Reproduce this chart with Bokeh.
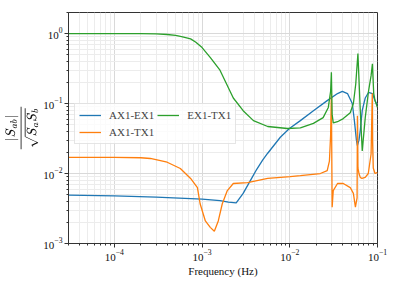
import numpy as np
from bokeh.plotting import figure
from bokeh.models import Legend, LegendItem, FixedTicker
from bokeh.embed import file_html
from bokeh.resources import INLINE

# A_X1-E_X1 (blue)
f_ae = [3e-5, 1e-4, 3e-4, 1e-3, 1.6e-3, 2.0e-3, 2.45e-3, 2.94e-3, 3.55e-3, 4.2e-3,
        4.9e-3, 5.6e-3, 7.8e-3, 9.9e-3, 0.0132, 0.0186, 0.0267, 0.035, 0.0397, 0.0455,
        0.0516, 0.0545, 0.0575, 0.059, 0.0615, 0.0636, 0.067, 0.0725, 0.079,
        0.0875, 0.0937, 0.1]
v_ae = [0.0049, 0.0048, 0.0046, 0.0043, 0.0041, 0.0039, 0.0038, 0.0052, 0.0079, 0.0115,
        0.0155, 0.0195, 0.033, 0.044, 0.057, 0.079, 0.11, 0.139, 0.149, 0.139,
        0.10, 0.057, 0.030, 0.025, 0.030, 0.041, 0.080, 0.12, 0.144,
        0.139, 0.11, 0.094]

# A_X1-T_X1 (orange)
f_at = [3e-5, 1e-4, 2e-4, 2.57e-4, 4e-4, 5.65e-4, 7.4e-4, 8.85e-4, 9.5e-4, 1.09e-3,
        1.24e-3, 1.38e-3, 1.53e-3, 1.7e-3, 1.94e-3, 2.27e-3, 3.3e-3, 5.6e-3, 0.0101,
        0.0132, 0.0223, 0.0267, 0.0283, 0.0292, 0.0298, 0.0304, 0.0313, 0.035, 0.0407,
        0.0489, 0.0531, 0.056, 0.0585, 0.059, 0.0598, 0.0615, 0.0636, 0.0665, 0.0725,
        0.0785, 0.0845, 0.0872, 0.0878, 0.0895, 0.0937, 0.1]
v_at = [0.017, 0.017, 0.0168, 0.0164, 0.0145, 0.0118, 0.0085, 0.0063, 0.0037, 0.0021,
        0.0017, 0.0015, 0.0021, 0.0037, 0.0057, 0.0072, 0.0074, 0.0085, 0.009,
        0.0093, 0.010, 0.011, 0.015, 0.035, 0.14, 0.0033, 0.0057, 0.0072, 0.0072,
        0.0063, 0.0052, 0.0033, 0.0045, 0.067, 0.012, 0.010, 0.0088, 0.0085, 0.0088,
        0.010, 0.019, 0.14, 0.03, 0.012, 0.010, 0.0104]

# E_X1-T_X1 (green)
f_et = [3e-5, 1e-4, 2e-4, 3e-4, 4e-4, 5e-4, 6e-4, 7.4e-4, 8.5e-4, 1e-3, 1.25e-3,
        1.6e-3, 2.27e-3, 2.94e-3, 3.85e-3, 5.6e-3, 9.4e-3, 0.0132, 0.0186, 0.024,
        0.0275, 0.0292, 0.0298, 0.0304, 0.0313, 0.035, 0.0407, 0.0489, 0.0531, 0.0565,
        0.0598, 0.0636, 0.067, 0.0725, 0.079, 0.0845, 0.0875, 0.0905, 0.0937, 0.1]
v_et = [1.0, 1.0, 1.0, 0.99, 0.97, 0.94, 0.90, 0.84, 0.75, 0.63, 0.45,
        0.30, 0.12, 0.079, 0.057, 0.047, 0.044, 0.045, 0.052, 0.063,
        0.088, 0.15, 0.28, 0.07, 0.053, 0.055, 0.061, 0.074, 0.10, 0.19,
        0.52, 0.08, 0.021, 0.063, 0.15, 0.25, 0.37, 0.14, 0.11, 0.088]

labels = ["AX1-EX1", "AX1-TX1", "EX1-TX1"]
colors = ["#1f77b4", "#ff7f0e", "#2ca02c"]
x_ticks = [1e-4, 1e-3, 1e-2, 1e-1]
y_ticks = [1e-3, 1e-2, 1e-1, 1.0]

FONT = "Liberation Serif"

p = figure(width=390, height=280, x_axis_type="log", y_axis_type="log",
           x_range=(3e-5, 0.1), y_range=(1e-3, 2.0),
           output_backend="svg", toolbar_location=None,
           min_border_left=68, min_border_right=13, min_border_top=12, min_border_bottom=37)

r1 = p.line(f_ae, v_ae, line_color=colors[0], line_width=1.3)
r2 = p.line(f_at, v_at, line_color=colors[1], line_width=1.3)
r3 = p.line(f_et, v_et, line_color=colors[2], line_width=1.3)

p.outline_line_color = "#333333"
p.outline_line_width = 1
for ax in (p.xaxis[0], p.yaxis[0]):
    ax.axis_line_color = "#333333"
    ax.major_tick_line_color = "#333333"
    ax.minor_tick_line_color = "#333333"
    ax.major_tick_out = 4
    ax.major_tick_in = 0
    ax.minor_tick_out = 2
    ax.minor_tick_in = 0
    ax.major_label_standoff = 2
    ax.major_label_text_font = FONT
    ax.major_label_text_font_size = "11px"
    ax.major_label_text_color = "#111111"
    ax.axis_label_text_font = FONT
    ax.axis_label_text_font_style = "normal"
    ax.axis_label_text_font_size = "11px"
    ax.axis_label_text_color = "#111111"

p.xaxis.ticker = FixedTicker(ticks=x_ticks,
                             minor_ticks=[m * 10.0**e for e in range(-5, -1) for m in range(2, 10)])
p.yaxis.ticker = FixedTicker(ticks=y_ticks,
                             minor_ticks=[m * 10.0**e for e in range(-3, 1) for m in range(2, 10)])
p.xaxis.axis_label = "Frequency (Hz)"
p.xaxis.axis_label_standoff = 1
p.yaxis.axis_label = r"$$\frac{|S_{ab}|}{\sqrt{S_a S_b}}$$"
p.yaxis.axis_label_text_font_size = "12px"
p.yaxis.axis_label_standoff = 2

p.xgrid.grid_line_color = "#d9d9d9"
p.ygrid.grid_line_color = "#d9d9d9"
p.xgrid.minor_grid_line_color = "#ececec"
p.ygrid.minor_grid_line_color = "#ececec"

legend = Legend(items=[LegendItem(label=labels[0], renderers=[r1]),
                       LegendItem(label=labels[1], renderers=[r2]),
                       LegendItem(label=labels[2], renderers=[r3])],
                ncols=2, location=(6, 99))
legend.label_text_font = FONT
legend.label_text_font_size = "11px"
legend.border_line_color = "#cccccc"
legend.background_fill_alpha = 0.8
legend.glyph_width = 22
legend.glyph_height = 14
legend.label_height = 14
legend.label_standoff = 8
legend.spacing = 3
legend.padding = 4
legend.margin = 0
p.add_layout(legend, "center")

open("out.html", "w").write(file_html(p, INLINE))
